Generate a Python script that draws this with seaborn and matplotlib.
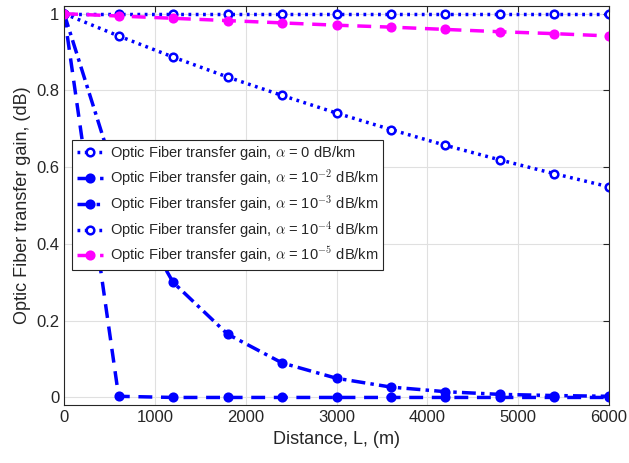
import numpy as np
import pandas as pd
import matplotlib
matplotlib.use("Agg")
import matplotlib.pyplot as plt
from matplotlib.ticker import FuncFormatter
import seaborn as sns

# distance samples (m)
distance = [0, 600, 1200, 1800, 2400, 3000, 3600, 4200, 4800, 5400, 6000]

# gains
gain_a0 = [1, 1, 1, 1, 1, 1, 1, 1, 1, 1, 1]
gain_a2 = [1, 0.003, 0.0, 0.0, 0.0, 0.0, 0.0, 0.0, 0.0, 0.0, 0.0]
gain_a3 = [1, 0.55, 0.30, 0.165, 0.09, 0.05, 0.027, 0.015, 0.008, 0.005, 0.003]
gain_a4 = [1, 0.942, 0.887, 0.835, 0.787, 0.741, 0.698, 0.657, 0.619, 0.583, 0.549]
gain_a5 = [1, 0.994, 0.988, 0.982, 0.976, 0.970, 0.965, 0.959, 0.953, 0.948, 0.942]

labels = [
    r"Optic Fiber transfer gain, $\alpha$ = 0 dB/km",
    r"Optic Fiber transfer gain, $\alpha$ = 10$^{-2}$ dB/km",
    r"Optic Fiber transfer gain, $\alpha$ = 10$^{-3}$ dB/km",
    r"Optic Fiber transfer gain, $\alpha$ = 10$^{-4}$ dB/km",
    r"Optic Fiber transfer gain, $\alpha$ = 10$^{-5}$ dB/km",
]

sns.set_style("white")
plt.rcParams["font.family"] = ["Liberation Sans", "DejaVu Sans"]
plt.rcParams["mathtext.fontset"] = "cm"

fig, ax = plt.subplots(figsize=(6.29, 4.63), dpi=100)

blue = "#0000ff"
magenta = "#ff00ff"
styles = [
    (gain_a0, blue, (0, (0.8, 1.3)), "white"),
    (gain_a2, blue, (0, (4, 2.5)), blue),
    (gain_a3, blue, (0, (4, 1.5, 1, 1.5)), blue),
    (gain_a4, blue, (0, (0.8, 1.3)), "white"),
    (gain_a5, magenta, (0, (4, 2.5)), magenta),
]

for (vals, col, ls, face), lab in zip(styles, labels):
    sns.lineplot(x=distance, y=vals, ax=ax, color=col, linewidth=2.5,
                 linestyle=ls, marker="o", markersize=5.5, markerfacecolor=face,
                 markeredgecolor=col, markeredgewidth=1.8, label=lab)

ax.set_xlim(0, 6000)
ax.set_ylim(-0.02, 1.02)
ax.set_xticks(range(0, 6001, 1000))
ax.set_yticks([0, 0.2, 0.4, 0.6, 0.8, 1])
ax.yaxis.set_major_formatter(FuncFormatter(lambda v, p: f"{v:g}"))
ax.grid(True, color="#e0e0e0", linewidth=0.8)
ax.set_axisbelow(True)
for s in ax.spines.values():
    s.set_color("#262626")
    s.set_linewidth(0.8)
ax.tick_params(direction="in", top=True, right=True, labelsize=12,
               colors="#262626", length=4)
ax.set_xlabel("Distance, L, (m)", fontsize=13, color="#262626")
ax.set_ylabel("Optic Fiber transfer gain, (dB)", fontsize=13, color="#262626")

leg = ax.legend(loc="upper left", bbox_to_anchor=(0.015, 0.665), fontsize=10.5,
                frameon=True, fancybox=False, edgecolor="#262626", framealpha=1,
                handlelength=1.8, handletextpad=0.5, borderpad=0.3,
                labelspacing=0.35, borderaxespad=0)
leg.get_frame().set_linewidth(0.8)

fig.subplots_adjust(left=0.102, right=0.968, top=0.987, bottom=0.125)
fig.savefig("out.png", dpi=100)
